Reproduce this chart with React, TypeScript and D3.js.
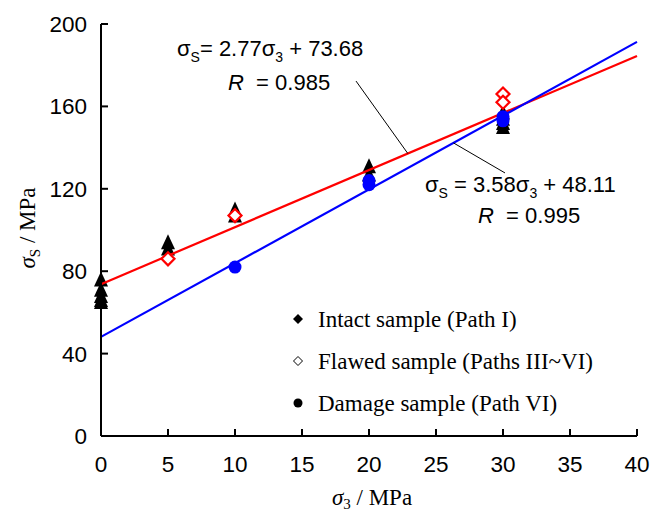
import React from "react";
import * as d3 from "d3";

const xTicks = [0, 5, 10, 15, 20, 25, 30, 35, 40];
const yTicks = [0, 40, 80, 120, 160, 200];

const intactX = [0, 0, 0, 0, 0, 5, 5, 10, 10, 20, 20, 30, 30, 30, 30];
const intactY = [76, 71, 68, 66, 65, 94, 91, 110, 107, 131, 127, 157, 154, 152, 150];

const flawedX = [5, 10, 30, 30];
const flawedY = [86, 107, 166, 162];

const damageX = [10, 20, 20, 30, 30];
const damageY = [82, 124, 122, 155, 153];

// fitted lines: slope, intercept
const redFit = [2.77, 73.68];
const blueFit = [3.58, 48.11];
const fitRange = [0, 40];

// leader lines [x1, y1, x2, y2] in data units
const leader1 = [19.03, 172.3, 22.9, 137.1];
const leader2 = [26.3, 142.3, 30.15, 127.7];

const legendLabels = [
  "Intact sample (Path I)",
  "Flawed sample (Paths III~VI)",
  "Damage sample (Path VI)",
];

export default function App() {
  const W = 660, H = 515;
  const x = d3.scaleLinear().domain([0, 40]).range([101, 637]);
  const y = d3.scaleLinear().domain([0, 200]).range([436, 24]);
  const sans = "'Liberation Sans', Arial, sans-serif";
  const serif = "'Liberation Serif', 'Times New Roman', serif";

  const fitLine = (f: number[]) =>
    d3.line<number>().x((d) => x(d)).y((d) => y(f[0] * d + f[1]))(fitRange) as string;

  const tri = (cx: number, cy: number) =>
    `M${cx},${cy - 8}L${cx + 7},${cy + 7}L${cx - 7},${cy + 7}Z`;
  const diamond = (cx: number, cy: number, r: number) =>
    `M${cx},${cy - r}L${cx + r},${cy}L${cx},${cy + r}L${cx - r},${cy}Z`;

  const legY = [327, 369, 411];

  return (
    <svg width={W} height={H} style={{ position: "absolute", left: 0, top: 0, background: "#fff" }}>
      <rect x={0} y={0} width={W} height={H} fill="#fff" />
      {/* markers */}
      {intactX.map((v, i) => (
        <path key={"i" + i} d={tri(x(v), y(intactY[i]))} fill="#000" />
      ))}
      {/* fitted lines */}
      <path d={fitLine(redFit)} stroke="#ff0000" strokeWidth={2.2} fill="none" />
      <path d={fitLine(blueFit)} stroke="#0000ff" strokeWidth={2.2} fill="none" />
      {flawedX.map((v, i) => (
        <path key={"f" + i} d={diamond(x(v), y(flawedY[i]), 6.5)} fill="#fff" stroke="#ff0000" strokeWidth={2.2} />
      ))}
      {damageX.map((v, i) => (
        <circle key={"d" + i} cx={x(v)} cy={y(damageY[i])} r={6.5} fill="#0000ff" />
      ))}
      {/* leader lines */}
      <line x1={x(leader1[0])} y1={y(leader1[1])} x2={x(leader1[2])} y2={y(leader1[3])} stroke="#000" strokeWidth={1} />
      <line x1={x(leader2[0])} y1={y(leader2[1])} x2={x(leader2[2])} y2={y(leader2[3])} stroke="#000" strokeWidth={1} />

      {/* axes */}
      <line x1={x(0)} y1={y(0)} x2={x(40)} y2={y(0)} stroke="#000" strokeWidth={2} />
      <line x1={x(0)} y1={y(0)} x2={x(0)} y2={y(200)} stroke="#000" strokeWidth={2} />
      {xTicks.map((t) => (
        <g key={"xt" + t}>
          <line x1={x(t)} x2={x(t)} y1={y(0)} y2={y(0) - 7} stroke="#000" strokeWidth={2} />
          <text x={x(t)} y={472} textAnchor="middle" fontFamily={sans} fontSize={22.5} fill="#000">{t}</text>
        </g>
      ))}
      {yTicks.map((t) => (
        <g key={"yt" + t}>
          <line x1={x(0)} x2={x(0) + 7} y1={y(t)} y2={y(t)} stroke="#000" strokeWidth={2} />
          <text x={87} y={y(t) + 8} textAnchor="end" fontFamily={sans} fontSize={22.5} fill="#000">{t}</text>
        </g>
      ))}

      {/* axis titles */}
      <text x={372} y={505} textAnchor="middle" fontFamily={serif} fontSize={23} fill="#000">
        <tspan fontStyle="italic">σ</tspan>
        <tspan fontSize={15} dy={4}>3</tspan>
        <tspan dy={-4}> / MPa</tspan>
      </text>
      <text transform="translate(35,228) rotate(-90)" textAnchor="middle" fontFamily={serif} fontSize={23} fill="#000">
        <tspan fontStyle="italic">σ</tspan>
        <tspan fontSize={15} dy={5}>S</tspan>
        <tspan dy={-5}> / MPa</tspan>
      </text>

      {/* equations */}
      <text x={177} y={56} fontFamily={sans} fontSize={22} fill="#000">
        <tspan>σ</tspan>
        <tspan fontSize={14} dy={6}>S</tspan>
        <tspan dy={-6}>= 2.77σ</tspan>
        <tspan fontSize={14} dy={6}>3</tspan>
        <tspan dy={-6}> + 73.68</tspan>
      </text>
      <text x={228} y={90} fontFamily={sans} fontSize={22} fill="#000" xmlSpace="preserve">
        <tspan fontStyle="italic">R</tspan>
        <tspan>  = 0.985</tspan>
      </text>
      <text x={425} y={192} fontFamily={sans} fontSize={22} fill="#000">
        <tspan>σ</tspan>
        <tspan fontSize={14} dy={6}>S</tspan>
        <tspan dy={-6}> = 3.58σ</tspan>
        <tspan fontSize={14} dy={6}>3</tspan>
        <tspan dy={-6}> + 48.11</tspan>
      </text>
      <text x={478} y={223} fontFamily={sans} fontSize={22} fill="#000" xmlSpace="preserve">
        <tspan fontStyle="italic">R</tspan>
        <tspan>  = 0.995</tspan>
      </text>

      {/* legend */}
      <path d={diamond(298, legY[0] - 8, 5)} fill="#000" />
      <path d={diamond(298, legY[1] - 8, 4.5)} fill="#fff" stroke="#000" strokeWidth={1} />
      <circle cx={298} cy={legY[2] - 8} r={4.5} fill="#000" />
      {legendLabels.map((l, i) => (
        <text key={l} x={318} y={legY[i]} fontFamily={serif} fontSize={23} fill="#000">{l}</text>
      ))}
    </svg>
  );
}
